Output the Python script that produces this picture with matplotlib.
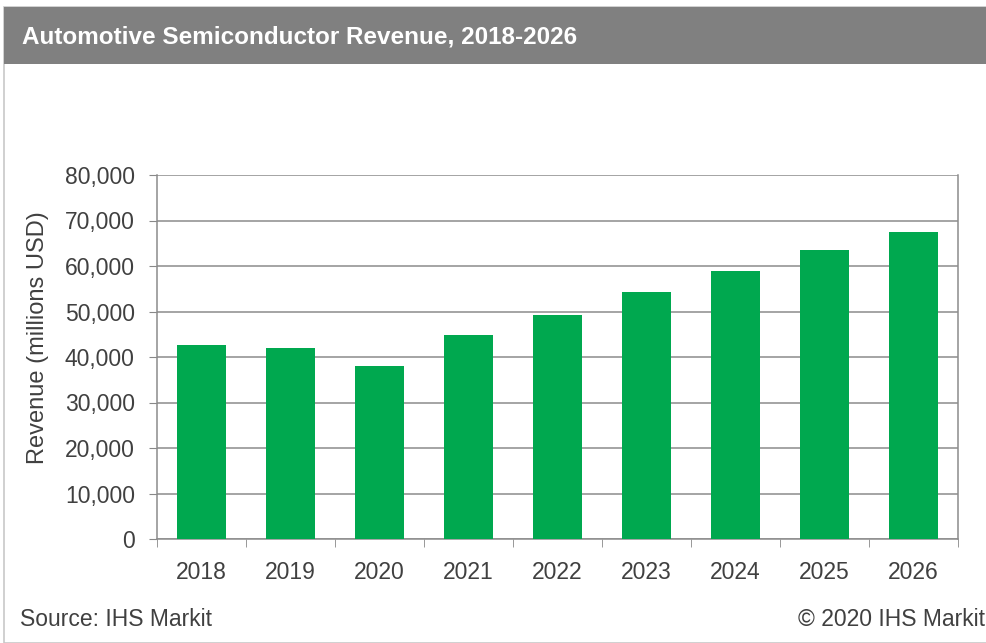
import matplotlib
matplotlib.use("Agg")
import matplotlib.pyplot as plt
from matplotlib.patches import Rectangle
from matplotlib.ticker import FuncFormatter, FixedLocator
import numpy as np

years = ["2018", "2019", "2020", "2021", "2022", "2023", "2024", "2025", "2026"]
revenue = [42600, 42000, 38100, 44800, 49200, 54200, 59000, 63500, 67400]
yticks = [0, 10000, 20000, 30000, 40000, 50000, 60000, 70000, 80000]

plt.rcParams['font.family'] = ['Liberation Sans', 'DejaVu Sans']
W, H = 987, 643
fig = plt.figure(figsize=(W / 100, H / 100), dpi=100)

# outer border and header band
fig.patches.append(Rectangle((4 / W, 0), 1, 1 - 7 / H, transform=fig.transFigure,
                             fill=False, edgecolor='#c8c8c8', linewidth=1.2))
fig.patches.append(Rectangle((4 / W, 1 - 64 / H), 1, 57 / H, transform=fig.transFigure,
                             facecolor='#808080', edgecolor='none'))
fig.text(22 / W, 1 - 37 / H, "Automotive Semiconductor Revenue, 2018-2026", color='white',
         fontsize=17.5, fontweight='bold', va='center', ha='left')

ax = fig.add_axes([157 / W, 1 - 539 / H, (958 - 157) / W, (539 - 175) / H])
x = np.arange(len(years))
ax.bar(x, revenue, width=0.54, color='#00a84f', zorder=3)
ax.set_xlim(-0.5, len(years) - 0.5)
ax.set_ylim(0, 80000)
ax.set_yticks(yticks)
ax.yaxis.set_major_formatter(FuncFormatter(lambda v, p: f"{int(v):,}"))
ax.set_xticks(x)
ax.set_xticklabels(years)
ax.xaxis.set_minor_locator(FixedLocator(np.arange(-0.5, len(years), 1.0)))
ax.tick_params(axis='x', which='major', length=0, pad=16, labelsize=16.5, labelcolor='#404040')
ax.tick_params(axis='x', which='minor', length=6, color='#888888', direction='out')
ax.tick_params(axis='y', length=6, color='#888888', labelsize=16.5, labelcolor='#404040', pad=10)
ax.grid(axis='y', color='#8c8c8c', linewidth=1.1, zorder=0)
for side in ['left', 'bottom', 'right']:
    ax.spines[side].set_color('#8c8c8c')
    ax.spines[side].set_linewidth(1.1)
ax.spines['top'].set_visible(False)
fig.text(38 / W, 1 - 338 / H, "Revenue (millions USD)", fontsize=17, color='#404040',
         rotation=90, va='center', ha='center')

fig.text(20 / W, 1 - 620 / H, "Source: IHS Markit", fontsize=16.5, color='#404040', va='center', ha='left')
fig.text(985 / W, 1 - 620 / H, "© 2020 IHS Markit", fontsize=16.5, color='#404040', va='center', ha='right')

fig.savefig("out.png", dpi=100)
